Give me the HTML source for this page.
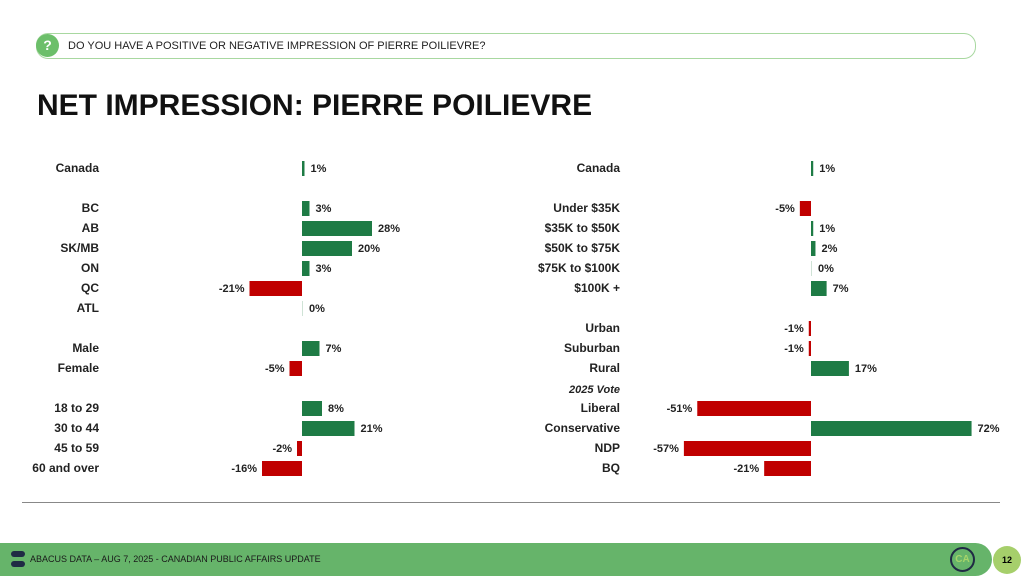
<!DOCTYPE html>
<html><head><meta charset="utf-8"><style>
body{margin:0;width:1024px;height:576px;overflow:hidden;background:#fff;font-family:"Liberation Sans",sans-serif;position:relative}
.abs{position:absolute}
</style></head><body>
<div class="abs" style="left:36px;top:33px;width:938px;height:24px;border:1px solid #a8d8a0;border-radius:12px"></div>
<div class="abs" style="left:36px;top:34px;width:23px;height:23px;border-radius:50%;background:#6cbf6a;color:#fff;font-weight:bold;font-size:14px;text-align:center;line-height:23px">?</div>
<div class="abs" style="left:68px;top:40px;font-size:11px;color:#222">DO YOU HAVE A POSITIVE OR NEGATIVE IMPRESSION OF PIERRE POILIEVRE?</div>
<div class="abs" style="left:37px;top:89px;font-size:30px;font-weight:bold;color:#111">NET IMPRESSION: PIERRE POILIEVRE</div>
<svg class="abs" style="left:0;top:0" width="1024" height="576" id="chart"></svg>
<div class="abs" style="left:22px;top:502px;width:978px;height:1px;background:#888"></div>
<div class="abs" style="left:0;top:543px;width:992px;height:33px;background:#66b46a;border-radius:0 17px 17px 0"></div>
<div class="abs" style="left:11px;top:551px;width:14px;height:6px;background:#1f2a44;border-radius:3px;box-shadow:0 10px 0 #1f2a44"></div>
<div class="abs" style="left:30px;top:554px;font-size:9px;color:#1a1a1a">ABACUS DATA – AUG 7, 2025 - CANADIAN PUBLIC AFFAIRS UPDATE</div>
<div class="abs" style="left:950px;top:547px;width:21px;height:21px;border:2px solid #1f2a44;border-radius:50%;color:#a6d46a;font-size:10px;font-weight:bold;text-align:center;line-height:21px">CA</div>
<div class="abs" style="left:993px;top:546px;width:28px;height:28px;border-radius:50%;background:#a6cf6b;font-size:9px;font-weight:bold;text-align:center;line-height:28px">12</div>
<script>
const leftLabels=["Canada","BC","AB","SK/MB","ON","QC","ATL","Male","Female","18 to 29","30 to 44","45 to 59","60 and over"];
const leftValues=[1,3,28,20,3,-21,0,7,-5,8,21,-2,-16];
const leftRows=[0,2,3,4,5,6,7,9,10,12,13,14,15];
const rightLabels=["Canada","Under $35K","$35K to $50K","$50K to $75K","$75K to $100K","$100K +","Urban","Suburban","Rural","Liberal","Conservative","NDP","BQ"];
const rightValues=[1,-5,1,2,0,7,-1,-1,17,-51,72,-57,-21];
const rightRows=[0,2,3,4,5,6,8,9,10,12,13,14,15];
const svg=document.getElementById('chart');
const NS='http://www.w3.org/2000/svg';
const rowY=r=>168+r*20;
function el(t,a,txt){const e=document.createElementNS(NS,t);for(const k in a)e.setAttribute(k,a[k]);if(txt!==undefined)e.textContent=txt;svg.appendChild(e);return e;}
function panel(labels,values,rows,zero,scale,labelX,prefix){
  labels.forEach((lab,i)=>{
    const y=rowY(rows[i]);const v=values[i];
    const t=el('text',{x:labelX,y:y+4,'text-anchor':'end','font-size':12,'font-weight':'bold',fill:'#222'},lab);
    
    
    const w=Math.max(Math.abs(v)*scale,v===0?1:0);
    const x=v>=0?zero:zero-w;
    const r=el('rect',{x:x,y:y-7,width:w,height:15,fill:v>0?'#1e7b45':(v<0?'#c00000':'#cfe3d6')});
    
    
    const lx=v>=0?zero+w+6:zero-w-5;
    const vt=el('text',{x:lx,y:y+4,'text-anchor':v>=0?'start':'end','font-size':11,'font-weight':'bold',fill:'#222'},v+'%');
    
    
  });
}
panel(leftLabels,leftValues,leftRows,302,2.5,99,'left');
panel(rightLabels,rightValues,rightRows,811,2.23,620,'right');
const vt=el('text',{x:620,y:393,'text-anchor':'end','font-size':11,'font-weight':'bold','font-style':'italic',fill:'#222'},'2025 Vote');


</script>
</body></html>
